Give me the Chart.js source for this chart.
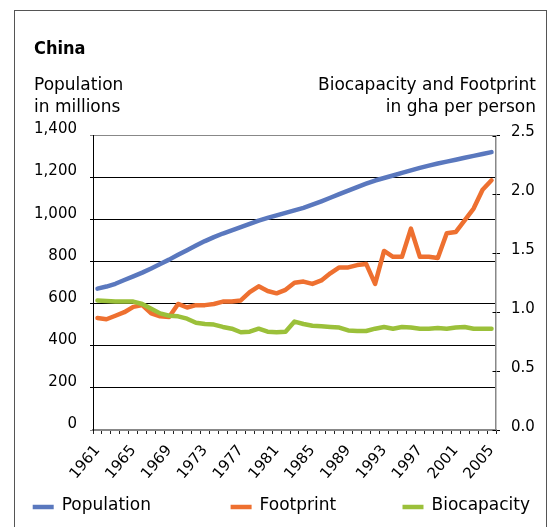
<!DOCTYPE html>
<html>
<head>
<meta charset="utf-8">
<script src="https://cdn.jsdelivr.net/npm/chart.js@4/dist/chart.umd.min.js"></script>
<style>
  html, body { margin: 0; padding: 0; background: #fff; }
  #wrap { width: 550px; height: 527px; }
</style>
</head>
<body>
<div id="wrap"><canvas id="c" width="550" height="527"></canvas></div>
<script>
const TITLE = 'China';
const LEFT_TITLE = ['Population', 'in millions'];
const RIGHT_TITLE = ['Biocapacity and Footprint', 'in gha per person'];

const years = [1961,1962,1963,1964,1965,1966,1967,1968,1969,1970,1971,1972,1973,1974,1975,1976,1977,1978,1979,1980,1981,1982,1983,1984,1985,1986,1987,1988,1989,1990,1991,1992,1993,1994,1995,1996,1997,1998,1999,2000,2001,2002,2003,2004,2005];

const population = [672,682,695,713,730,748,768,789,810,833,855,877,898,917,934,949,964,980,995,1008,1020,1032,1044,1056,1071,1087,1104,1121,1138,1155,1171,1186,1198,1210,1222,1234,1246,1257,1267,1276,1285,1294,1303,1312,1321];

const footprint = [0.95,0.94,0.97,1.00,1.045,1.06,0.99,0.965,0.96,1.07,1.04,1.06,1.06,1.07,1.09,1.09,1.10,1.17,1.22,1.18,1.16,1.19,1.25,1.26,1.24,1.27,1.33,1.38,1.38,1.40,1.41,1.24,1.52,1.47,1.47,1.71,1.47,1.47,1.46,1.67,1.68,1.78,1.88,2.04,2.12];

const biocapacity = [1.10,1.095,1.09,1.09,1.09,1.07,1.03,0.99,0.97,0.965,0.945,0.91,0.90,0.895,0.875,0.86,0.83,0.835,0.86,0.835,0.83,0.835,0.92,0.90,0.885,0.88,0.875,0.87,0.845,0.84,0.84,0.86,0.875,0.86,0.875,0.87,0.86,0.86,0.865,0.86,0.87,0.875,0.86,0.86,0.86];

const leftTicks = [0,200,400,600,800,1000,1200,1400];
const rightTicks = [0,0.5,1.0,1.5,2.0,2.5];

const seriesNames = ['Population','Footprint','Biocapacity'];
const seriesColors = ['#5a78be','#ee7030','#9bc03a'];

const FONT = '"DejaVu Sans", sans-serif';

const legendPos = [32.7, 230.6, 402.5];

const decor = {
  id: 'decor',
  beforeDraw(chart) {
    const ctx = chart.ctx;
    ctx.save();
    ctx.fillStyle = '#fff';
    ctx.fillRect(0, 0, chart.width, chart.height);
    ctx.restore();
  },
  afterDraw(chart) {
    const ctx = chart.ctx;
    ctx.save();
    // frame
    ctx.strokeStyle = '#555';
    ctx.lineWidth = 1;
    ctx.strokeRect(14.5, 10.5, 532, 600);
    // title
    ctx.fillStyle = '#000';
    ctx.textBaseline = 'alphabetic';
    ctx.textAlign = 'left';
    ctx.font = 'bold 18px "DejaVu Sans Condensed", "DejaVu Sans", sans-serif';
    ctx.fillText(TITLE, 34, 53.5);
    ctx.font = '17px ' + FONT;
    ctx.fillText(LEFT_TITLE[0], 34, 89.5);
    ctx.fillText(LEFT_TITLE[1], 34, 112);
    ctx.textAlign = 'right';
    ctx.fillText(RIGHT_TITLE[0], 536, 89.5);
    ctx.fillText(RIGHT_TITLE[1], 536, 112);
    // inner part of right ticks
    const y1 = chart.scales.y1;
    ctx.strokeStyle = '#000';
    ctx.lineWidth = 1;
    y1.ticks.forEach(t => {
      const py = Math.round(y1.getPixelForValue(t.value)) + 0.5;
      ctx.beginPath();
      ctx.moveTo(y1.left - 3.5, py);
      ctx.lineTo(y1.left, py);
      ctx.stroke();
    });
    // legend
    ctx.textAlign = 'left';
    ctx.font = '17px ' + FONT;
    chart.data.datasets.forEach((ds, i) => {
      const x = legendPos[i];
      ctx.strokeStyle = ds.borderColor;
      ctx.lineWidth = 4.5;
      ctx.lineCap = 'butt';
      ctx.beginPath();
      ctx.moveTo(x, 507);
      ctx.lineTo(x + 21, 507);
      ctx.stroke();
      ctx.fillStyle = '#000';
      ctx.fillText(ds.label, x + 29, 510);
    });
    ctx.restore();
  }
};

const mkDs = (label, data, color, axis, order) => ({
  label, data, borderColor: color, backgroundColor: color, yAxisID: axis, order,
  borderWidth: 4.5, pointRadius: 0, pointHoverRadius: 0, tension: 0,
  borderJoinStyle: 'round', borderCapStyle: 'round', fill: false
});

new Chart(document.getElementById('c'), {
  type: 'line',
  data: {
    labels: years.map(String),
    datasets: [
      mkDs(seriesNames[0], population, seriesColors[0], 'y', 3),
      mkDs(seriesNames[1], footprint, seriesColors[1], 'y1', 2),
      mkDs(seriesNames[2], biocapacity, seriesColors[2], 'y1', 1)
    ]
  },
  options: {
    responsive: false,
    maintainAspectRatio: false,
    devicePixelRatio: 1,
    animation: false,
    events: [],
    layout: { padding: { top: 135.5, left: 0, right: 0, bottom: 0 } },
    plugins: { legend: { display: false }, tooltip: { enabled: false }, title: { display: false } },
    scales: {
      x: {
        type: 'category',
        offset: true,
        grid: { offset: true, drawOnChartArea: false, drawTicks: true, tickLength: 4, color: '#222', lineWidth: 1 },
        border: { display: true, color: '#888', width: 1.5 },
        ticks: {
          autoSkip: false, minRotation: 50, maxRotation: 50, padding: 8,
          color: '#000', font: { family: FONT, size: 15 },
          callback: (v, i) => (i % 4 === 0 ? years[i] : '')
        },
        afterFit: s => { s.height = 97; }
      },
      y: {
        position: 'left', min: 0, max: 1400,
        afterBuildTicks: s => { s.ticks = leftTicks.map(v => ({ value: v })); },
        grid: {
          drawTicks: true, tickLength: 3, lineWidth: 1,
          color: c => (c.tick && (c.tick.value === 1400 || c.tick.value === 0)) ? '#888' : '#000'
        },
        border: { display: true, color: '#000', width: 1 },
        ticks: {
          padding: 13, labelOffset: -6, color: '#000', font: { family: FONT, size: 15 },
          callback: v => Number(v).toLocaleString('en-US')
        },
        afterFit: s => { s.width = 93; }
      },
      y1: {
        position: 'right', min: 0, max: 2.5,
        afterBuildTicks: s => { s.ticks = rightTicks.map(v => ({ value: v })); },
        grid: { drawOnChartArea: false, drawTicks: true, tickLength: 4, color: '#000', lineWidth: 1 },
        border: { display: true, color: '#888', width: 1.5 },
        ticks: {
          padding: 11, labelOffset: -3, color: '#000', font: { family: FONT, size: 15 },
          callback: v => Number(v).toFixed(1)
        },
        afterFit: s => { s.width = 54; }
      }
    }
  },
  plugins: [decor]
});
</script>
</body>
</html>
